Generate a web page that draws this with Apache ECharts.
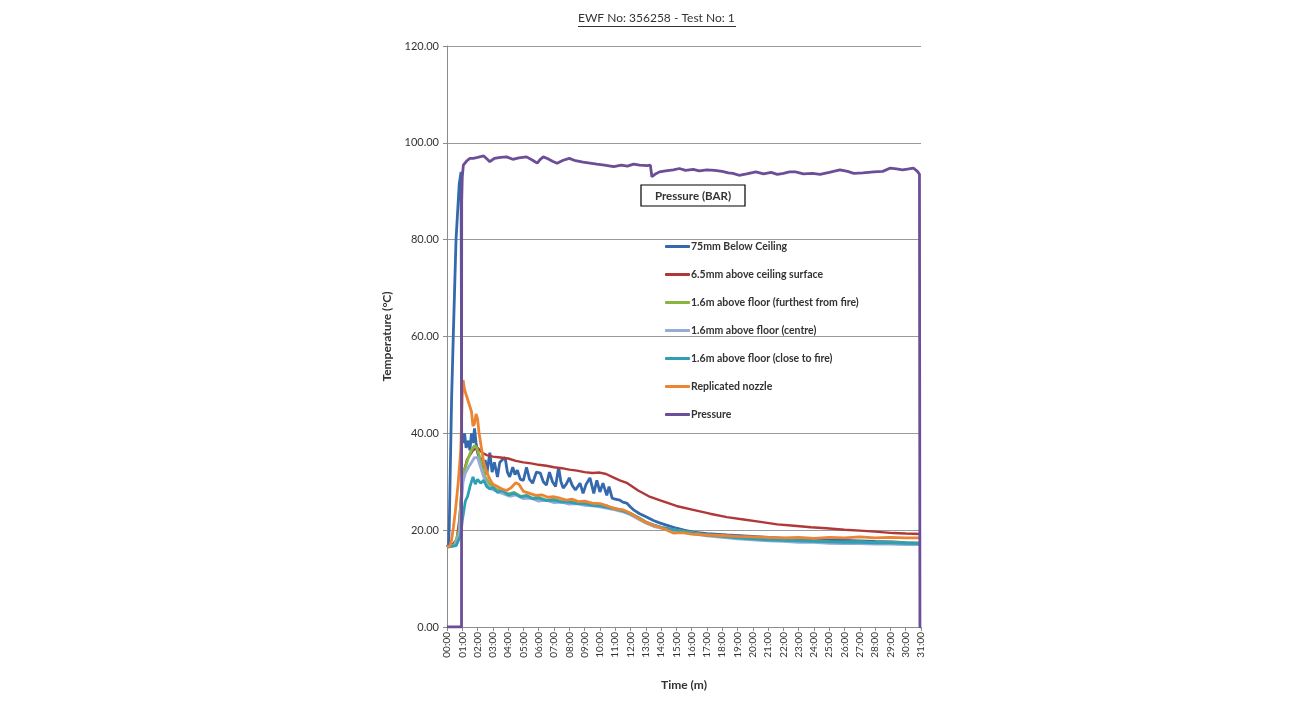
<!DOCTYPE html>
<html>
<head>
<meta charset="utf-8">
<script src="https://cdn.jsdelivr.net/npm/echarts@6/dist/echarts.min.js"></script>
<style>
html, body { margin: 0; padding: 0; background: #fff; }
#chart { width: 1300px; height: 722px; }
</style>
</head>
<body>
<div id="chart"></div>
<script>
// readings as [minutes, value]
var seriesNames = ['75mm Below Ceiling', '6.5mm above ceiling surface', '1.6m above floor (furthest from fire)',
    '1.6mm above floor (centre)', '1.6m above floor (close to fire)', 'Replicated nozzle', 'Pressure'];
var seriesColors = ['#3469ad', '#b03838', '#8ab541', '#94acd6', '#2e9fb5', '#eb8433', '#6b4e96'];

var belowCeiling = [[0,16.5],[0.1,17],[0.15,21],[0.2,30],[0.3,47],[0.41,60],[0.59,80],[0.8,91.5],[0.92,94],
    [0.96,40],[1.05,38],[1.15,40],[1.25,37],[1.4,38.5],[1.5,36.5],[1.6,40],[1.7,38],[1.8,41],[1.9,38],[2.0,36],
    [2.1,35],[2.2,33.5],[2.3,35],[2.4,32.5],[2.5,34.5],[2.6,31.5],[2.8,36],[2.95,32],[3.1,34],[3.3,31],[3.45,34],
    [3.6,34.5],[3.8,35],[3.95,32],[4.1,31],[4.3,33],[4.45,31.5],[4.6,32.4],[4.8,30.5],[5.0,30.3],[5.2,33],[5.4,30.5],
    [5.6,29.7],[5.85,32],[6.1,31.8],[6.3,30],[6.5,29.3],[6.7,32],[6.9,30],[7.1,29],[7.3,33],[7.45,30],[7.6,28.7],
    [7.8,29.5],[8.0,30.8],[8.2,29.2],[8.4,28.3],[8.7,29.7],[8.9,27.6],[9.1,29.5],[9.35,30.8],[9.6,27.6],[9.8,30.3],
    [10.0,27.9],[10.2,29.7],[10.45,27.2],[10.6,29],[10.7,29.3],[10.8,26.6],[11.0,26.4],[11.3,26.2],[11.5,25.8],
    [11.75,25.6],[12.0,24.8],[12.2,24.2],[12.6,23.4],[13.05,22.7],[13.5,22],[13.9,21.5],[14.4,21],[15,20.4],[15.5,20],
    [16.1,19.6],[17,19.3],[18.3,19],[19.4,18.8],[20.5,18.6],[21.6,18.4],[22.7,18.2],[23.8,18.1],[24.8,18],[26,17.9],
    [27,17.8],[28,17.7],[29.2,17.6],[30,17.4],[31,17.3]];

var aboveCeiling = [[0,16.5],[0.3,16.8],[0.63,18],[0.8,22],[0.95,28],[1.1,32],[1.3,34.5],[1.5,35.5],[1.7,36.5],
    [2.0,37],[2.3,36],[2.6,35.5],[3,35.2],[3.5,35],[4,34.8],[4.5,34.3],[5,34],[5.5,33.8],[6,33.5],[6.5,33.3],[7,33],
    [7.5,32.8],[8,32.5],[8.5,32.3],[9,32],[9.5,31.8],[10,31.9],[10.4,31.6],[10.8,31],[11.3,30.3],[11.8,29.7],
    [12.5,28.2],[13.2,27],[13.9,26.2],[15,25],[16.1,24.2],[17.2,23.4],[18.3,22.7],[19.4,22.2],[20.5,21.7],
    [21.6,21.2],[22.7,20.9],[23.8,20.6],[24.8,20.4],[26,20.1],[27,19.9],[28,19.7],[29.2,19.4],[30,19.3],[31,19.2]];

var floorFurthest = [[0,16.5],[0.5,17],[0.8,20],[0.95,28],[1.05,32],[1.2,33],[1.4,35],[1.6,36.5],[1.8,37.5],
    [1.95,37],[2.1,35.5],[2.3,33],[2.5,31],[2.8,29.5],[3.2,28.5],[3.6,28],[4,27.5],[4.4,27.8],[4.8,27],[5.2,27.2],
    [5.6,26.6],[6,26.8],[6.5,26.2],[7,26.4],[7.5,25.9],[8,26],[8.5,25.6],[9,25.7],[9.5,25.3],[10,25.2],[10.5,24.8],
    [11,24.5],[11.5,24.1],[12,23.5],[12.5,22.6],[13,21.7],[13.5,21],[14,20.6],[15,20],[16,19.5],[17,19],[18,18.8],
    [19,18.4],[20,18.3],[21,18.1],[22,18],[23,17.8],[24,17.8],[25,17.6],[26,17.5],[27,17.6],[28,17.4],[29,17.5],
    [30,17.3],[31,17.3]];

var floorCentre = [[0,16.5],[0.5,16.8],[0.8,19],[0.95,26],[1.05,30],[1.2,31.8],[1.4,33],[1.6,34],[1.8,35],
    [2.0,35],[2.2,33],[2.4,31],[2.6,29.5],[2.9,28.5],[3.3,28],[3.7,27.5],[4.1,27],[4.5,27.3],[5,26.5],[5.5,26.6],
    [6,26],[6.5,26.2],[7,25.7],[7.5,25.8],[8,25.4],[8.5,25.5],[9,25.1],[9.5,25],[10,24.8],[10.5,24.5],[11,24.2],
    [11.5,23.8],[12,23.2],[12.5,22.3],[13,21.5],[13.5,20.8],[14,20.4],[15,19.8],[16,19.3],[17,18.8],[18,18.5],
    [19,18.2],[20,18],[21,17.8],[22,17.7],[23,17.5],[24,17.5],[25,17.3],[26,17.2],[27,17.2],[28,17.1],[29,17.1],
    [30,17],[31,17]];

var floorClose = [[0,16.5],[0.6,16.8],[0.9,19],[1.0,22],[1.1,24],[1.2,26],[1.35,27],[1.5,29],[1.7,31],[1.85,29.5],
    [2.0,30.5],[2.2,29.7],[2.4,30.3],[2.6,29],[2.8,28.5],[3.0,28.8],[3.3,27.8],[3.6,28.2],[4,27.3],[4.4,27.6],
    [4.8,26.9],[5.2,27.1],[5.6,26.5],[6,26.6],[6.5,26.1],[7,26.2],[7.5,25.8],[8,25.8],[8.5,25.5],[9,25.5],[9.5,25.1],
    [10,25],[10.5,24.7],[11,24.4],[11.5,24],[12,23.4],[12.5,22.6],[13,21.7],[13.5,21.1],[14,20.6],[15,20],[16,19.4],
    [17,19],[18,18.7],[19,18.4],[20,18.2],[21,18],[22,17.9],[23,17.8],[24,17.7],[25,17.6],[26,17.5],[27,17.5],
    [28,17.4],[29,17.4],[30,17.3],[31,17.2]];

var nozzle = [[0,16.5],[0.2,16.8],[0.3,18],[0.42,20.6],[0.55,24],[0.73,29.7],[0.9,36.5],[1.0,48],[1.05,51],
    [1.15,49],[1.3,47.5],[1.45,46],[1.6,44.5],[1.7,41.5],[1.8,42],[1.9,44],[2.0,43],[2.1,40],[2.25,37],[2.4,34],
    [2.6,32],[2.8,30.5],[3.0,29.5],[3.3,29],[3.6,28.5],[3.9,28.2],[4.2,28.8],[4.5,29.8],[4.7,29.5],[5.0,28],
    [5.4,27.6],[5.8,27.2],[6.2,27.3],[6.6,26.8],[7.0,26.9],[7.4,26.6],[7.8,26.2],[8.2,26.4],[8.6,25.9],[9.0,26],
    [9.5,25.6],[10.0,25.5],[10.5,25],[11.0,24.4],[11.5,24.2],[12.0,23.5],[12.5,22.5],[13.0,21.6],[13.5,21],
    [14.0,20.5],[14.4,20],[14.8,19.4],[15.4,19.5],[16,19.2],[17,19],[18,18.9],[19,18.7],[20,18.6],[21,18.5],
    [22,18.4],[23,18.5],[24,18.3],[25,18.5],[26,18.4],[27,18.6],[28,18.4],[29,18.5],[30,18.4],[31,18.4]];

var pressure = [[0,0],[0.95,0],[0.96,88],[1.0,93],[1.07,95.4],[1.3,96.3],[1.5,96.8],[1.72,96.8],[2.0,97],
    [2.4,97.3],[2.6,96.7],[2.8,96.1],[3.1,96.8],[3.5,97],[3.9,97.1],[4.3,96.6],[4.7,96.9],[5.2,97.1],[5.6,96.4],
    [5.9,95.8],[6.1,96.6],[6.3,97.1],[6.6,96.7],[6.9,96.2],[7.2,95.8],[7.6,96.4],[8.0,96.8],[8.4,96.3],[8.9,96],
    [9.35,95.8],[9.8,95.6],[10.3,95.4],[10.9,95.1],[11.4,95.4],[11.8,95.2],[12.2,95.6],[12.6,95.4],[13.1,95.3],
    [13.3,95.4],[13.4,93],[13.6,93.5],[13.9,94],[14.3,94.2],[14.8,94.4],[15.2,94.7],[15.6,94.3],[16.1,94.5],
    [16.5,94.2],[17,94.4],[17.5,94.3],[18,94.1],[18.4,93.8],[18.7,93.7],[19.1,93.3],[19.6,93.6],[20.2,94],
    [20.7,93.6],[21.2,93.9],[21.6,93.5],[22,93.7],[22.4,94],[22.8,94],[23.3,93.6],[23.9,93.7],[24.4,93.5],
    [25,93.9],[25.7,94.4],[26.2,94.1],[26.6,93.7],[27.2,93.8],[27.9,94],[28.5,94.1],[29,94.8],[29.4,94.6],
    [29.8,94.4],[30.2,94.6],[30.5,94.8],[30.8,94],[30.9,93.5],[30.93,0],[31,0]];

var allData = [belowCeiling, aboveCeiling, floorFurthest, floorCentre, floorClose, nozzle, pressure];
var lineWidths = [2.8, 2.4, 2.8, 2.8, 2.8, 2.8, 2.8];

var font = 'Lato, "Open Sans", sans-serif';

function pad(n) {
    return (n < 10 ? '0' : '') + n;
}

var chart = echarts.init(document.getElementById('chart'));

var series = allData.map(function(data, i) {
    return {
        name: seriesNames[i],
        type: 'line',
        data: data,
        showSymbol: false,
        symbol: 'none',
        animation: false,
        lineStyle: { width: lineWidths[i], color: seriesColors[i] },
        itemStyle: { color: seriesColors[i] }
    };
});

chart.setOption({
    animation: false,
    textStyle: { fontFamily: font },
    grid: { left: 447, right: 379, top: 46, bottom: 95 },
    legend: {
        orient: 'vertical',
        left: 660,
        top: 236,
        icon: 'roundRect',
        itemWidth: 25,
        itemHeight: 3,
        itemGap: 17,
        data: seriesNames,
        textStyle: { fontFamily: font, fontSize: 10.5, color: '#333', fontWeight: 'bold', padding: [0, 0, 0, -4] }
    },
    xAxis: {
        type: 'value',
        min: 0,
        max: 31,
        interval: 1,
        name: 'Time (m)',
        nameLocation: 'middle',
        nameGap: 52,
        nameTextStyle: { fontFamily: font, fontSize: 12, color: '#333', fontWeight: 'bold' },
        axisLine: { lineStyle: { color: '#8c8c8c', width: 1 } },
        axisTick: { show: true, length: 4, lineStyle: { color: '#8c8c8c' } },
        axisLabel: {
            rotate: 90,
            fontSize: 10,
            color: '#333',
            fontFamily: font,
            margin: 5,
            formatter: function(v) { return pad(v) + ':00'; }
        },
        splitLine: { show: false }
    },
    yAxis: {
        type: 'value',
        min: 0,
        max: 120,
        interval: 20,
        name: 'Temperature (°C)',
        nameLocation: 'middle',
        nameRotate: 90,
        nameGap: 54,
        nameTextStyle: { fontFamily: font, fontSize: 12, color: '#333', fontWeight: 'bold' },
        axisLine: { show: true, lineStyle: { color: '#8c8c8c', width: 1 } },
        axisTick: { show: true, length: 4, lineStyle: { color: '#8c8c8c' } },
        axisLabel: {
            fontSize: 11,
            color: '#333',
            fontFamily: font,
            margin: 8,
            formatter: function(v) { return v.toFixed(2); }
        },
        splitLine: { show: true, lineStyle: { color: '#9a9a9a', width: 1 } }
    },
    graphic: [
        {
            type: 'text',
            x: 578,
            y: 12,
            style: { text: 'EWF No: 356258 - Test No: 1', font: '12px ' + font, fill: '#333' }
        },
        {
            type: 'line',
            shape: { x1: 578, y1: 26.5, x2: 736, y2: 26.5 },
            style: { stroke: '#333', lineWidth: 1 }
        },
        {
            type: 'group',
            x: 641,
            y: 185,
            children: [
                {
                    type: 'rect',
                    shape: { x: 0, y: 0, width: 104, height: 21 },
                    style: { fill: '#fff', stroke: '#000', lineWidth: 1.2 }
                },
                {
                    type: 'text',
                    style: { text: 'Pressure (BAR)', x: 52, y: 11, align: 'center', verticalAlign: 'middle',
                        font: 'bold 11.5px ' + font, fill: '#333' }
                }
            ]
        }
    ],
    series: series
});
</script>
</body>
</html>
